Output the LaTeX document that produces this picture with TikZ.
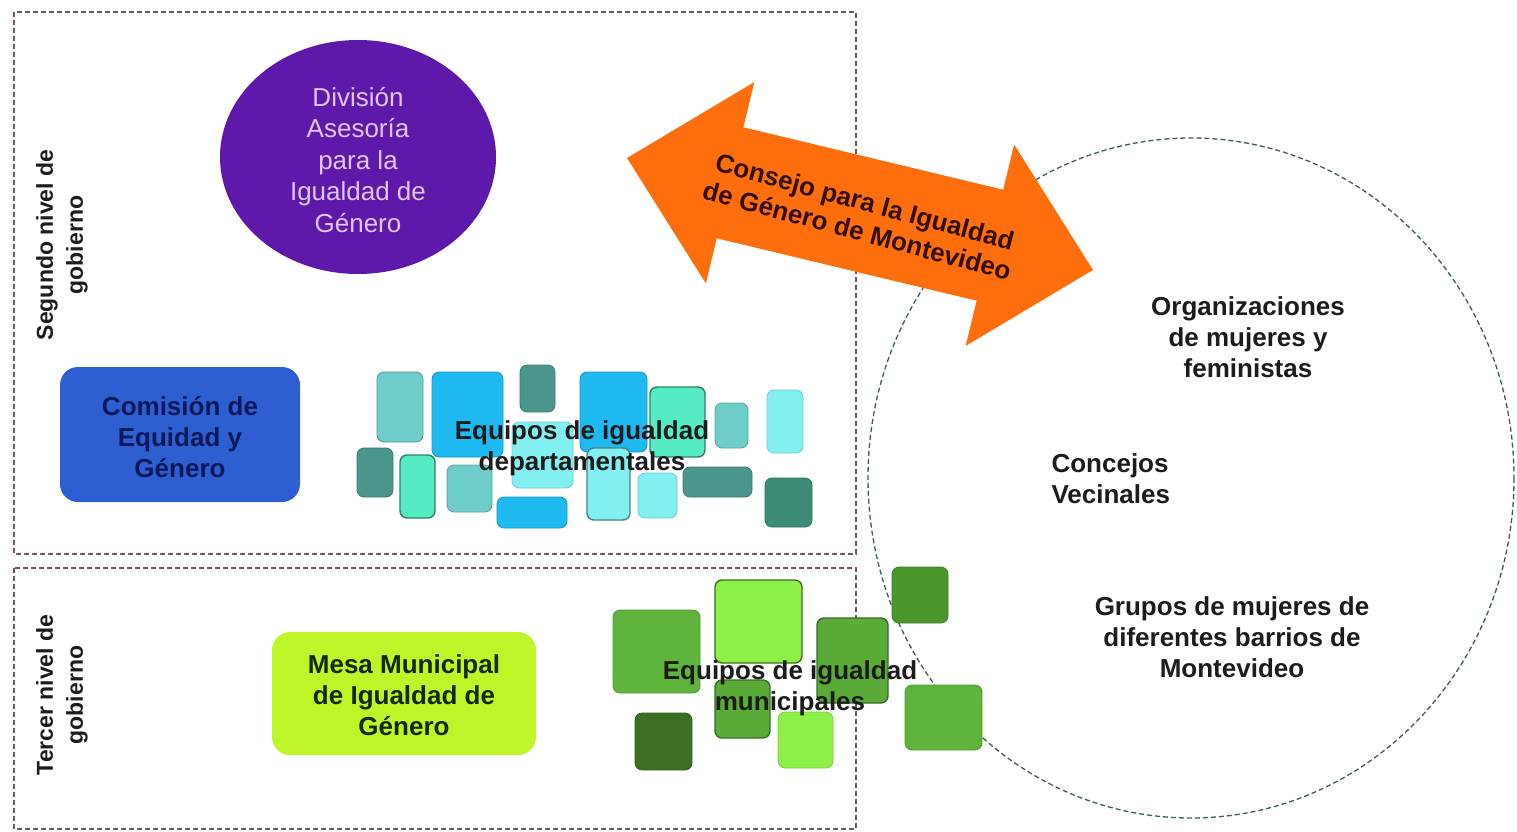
\documentclass[tikz,border=0pt]{standalone}
\usepackage{fontspec}
\setmainfont{Liberation Sans}
\usetikzlibrary{shapes.geometric}
\definecolor{frameC}{RGB}{115,85,95}
\definecolor{circC}{RGB}{60,90,95}
\definecolor{purp}{RGB}{95,25,170}
\definecolor{purptext}{RGB}{225,195,245}
\definecolor{comblue}{RGB}{45,95,210}
\definecolor{comtext}{RGB}{15,25,90}
\definecolor{mesagreen}{RGB}{190,245,40}
\definecolor{mesatext}{RGB}{20,40,10}
\definecolor{darktext}{RGB}{28,28,28}
\definecolor{arrowC}{RGB}{255,110,12}
\definecolor{arrowtext}{RGB}{50,15,10}
\definecolor{ltteal}{RGB}{110,205,200}
\definecolor{sky}{RGB}{30,185,240}
\definecolor{dkteal}{RGB}{75,150,140}
\definecolor{aqua}{RGB}{85,235,195}
\definecolor{ltcyan}{RGB}{130,240,240}
\definecolor{dkteal2}{RGB}{60,140,120}
\definecolor{gmid}{RGB}{95,180,60}
\definecolor{glight}{RGB}{140,240,70}
\definecolor{gmid2}{RGB}{90,170,55}
\definecolor{gdark}{RGB}{75,150,45}
\definecolor{gdarker}{RGB}{60,110,35}
\tikzset{
  frame/.style={draw=frameC, line width=1.4pt, dash pattern=on 5pt off 3pt},
  circ/.style={draw=circC, line width=1.3pt, dash pattern=on 5pt off 3pt},
  tile/.style={rounded corners=7pt, line width=0.8pt},
  tileo/.style={rounded corners=7pt, line width=1.4pt},
  big/.style={font=\fontsize{26}{31.5}\selectfont, align=center},
  bigb/.style={font=\bfseries\fontsize{26}{31}\selectfont, align=center},
  side/.style={font=\bfseries\fontsize{23}{30}\selectfont, align=center, text=darktext, rotate=90},
}
\begin{document}
\begin{tikzpicture}[x=1pt,y=-1pt]
\useasboundingbox (0,0) rectangle (1517,832);
% frames
\draw[frame] (14,12) rectangle (856,554);
\draw[frame] (14,568) rectangle (856,829);
% circle
\draw[circ] (1191,478) ellipse [x radius=323, y radius=340];

% purple ellipse
\node[ellipse, fill=purp, inner sep=0pt, minimum width=276pt, minimum height=234pt] (div) at (358,157) {};
\node[big, text=purptext] (divt) at (358,160) {División\\Asesoría\\para la\\Igualdad de\\Género};

% Comision
\node[rectangle, rounded corners=18pt, fill=comblue, minimum width=240pt, minimum height=135pt] (com) at (180,434.5) {};
\node[bigb, text=comtext] (comt) at (180,437.5) {Comisión de\\Equidad y\\Género};

% Mesa
\node[rectangle, rounded corners=18pt, fill=mesagreen, minimum width=264pt, minimum height=123pt] (mesa) at (404,693.5) {};
\node[bigb, text=mesatext] (mesat) at (404,695) {Mesa Municipal\\de Igualdad de\\Género};

% side labels
\node[side] (seg) at (62,245) {Segundo nivel de\\gobierno};
\node[side] (ter) at (62,695) {Tercer nivel de\\gobierno};

% blue tiles
\filldraw[tile, fill=ltteal, draw=ltteal!75!black] (377,372) rectangle (423,442);
\filldraw[tile, fill=sky, draw=sky!80!black] (432,372) rectangle (503,457);
\filldraw[tile, fill=dkteal, draw=dkteal!80!black] (520,365) rectangle (555,412);
\filldraw[tile, fill=sky, draw=sky!80!black] (580,372) rectangle (647,452);
\filldraw[tileo, fill=aqua, draw=aqua!55!black] (650,387) rectangle (705,457);
\filldraw[tile, fill=ltteal, draw=ltteal!80!black] (715,403) rectangle (748,448);
\filldraw[tile, fill=ltcyan, draw=ltcyan!85!black] (767,390) rectangle (803,453);
\filldraw[tile, fill=dkteal, draw=dkteal!80!black] (357,448) rectangle (393,497);
\filldraw[tileo, fill=aqua, draw=aqua!55!black] (400,455) rectangle (435,518);
\filldraw[tile, fill=ltteal, draw=ltteal!80!black] (447,465) rectangle (492,512);
\filldraw[tile, fill=ltcyan, draw=ltcyan!85!black] (512,422) rectangle (573,488);
\filldraw[tile, fill=sky, draw=sky!80!black] (497,497) rectangle (567,528);
\filldraw[tileo, fill=ltcyan, draw=ltcyan!55!black] (587,448) rectangle (630,520);
\filldraw[tile, fill=ltcyan, draw=ltcyan!85!black] (638,473) rectangle (677,518);
\filldraw[tile, fill=dkteal, draw=dkteal!80!black] (683,467) rectangle (752,497);
\filldraw[tile, fill=dkteal2, draw=dkteal2!80!black] (765,478) rectangle (812,527);
\node[bigb, text=darktext] (eqd) at (582,448) {Equipos de igualdad\\departamentales};

% green tiles
\filldraw[tile, fill=gmid, draw=gmid!85!black] (613,610) rectangle (700,693);
\filldraw[tileo, fill=glight, draw=glight!45!black] (715,580) rectangle (802,663);
\filldraw[tileo, fill=gmid2, draw=gmid2!65!black] (817,618) rectangle (888,703);
\filldraw[tile, fill=gdark, draw=gdark!85!black] (892,567) rectangle (948,623);
\filldraw[tileo, fill=gmid2, draw=gmid2!65!black] (715,680) rectangle (770,738);
\filldraw[tile, fill=gdarker, draw=gdarker!85!black] (635,713) rectangle (692,770);
\filldraw[tile, fill=glight, draw=glight!85!black] (778,712) rectangle (833,768);
\filldraw[tile, fill=gmid, draw=gmid!85!black] (905,685) rectangle (982,750);
\node[bigb, text=darktext] (eqm) at (790,688) {Equipos de igualdad\\municipales};

% right texts
\node[bigb, text=darktext] (org) at (1248,337) {Organizaciones\\de mujeres y\\feministas};
\node[font=\bfseries\fontsize{26}{31}\selectfont, align=left, text=darktext, anchor=west] (conc) at (1048,479) {Concejos\\Vecinales};
\node[bigb, text=darktext] (grp) at (1232,637) {Grupos de mujeres de\\diferentes barrios de\\Montevideo};

% double arrow
\fill[arrowC] (627,158) -- (754.3,82.1) -- (743.4,127.3) -- (1003.2,189.7) -- (1014.1,144.5)
  -- (1093,270) -- (965.7,345.9) -- (976.6,300.7) -- (716.8,238.3) -- (705.9,283.5) -- cycle;
\node[font=\bfseries\fontsize{26}{30}\selectfont, align=center, text=arrowtext, rotate=-15] (cons) at (861,216)
  {Consejo para la Igualdad\\de Género de Montevideo};
\end{tikzpicture}
\end{document}
